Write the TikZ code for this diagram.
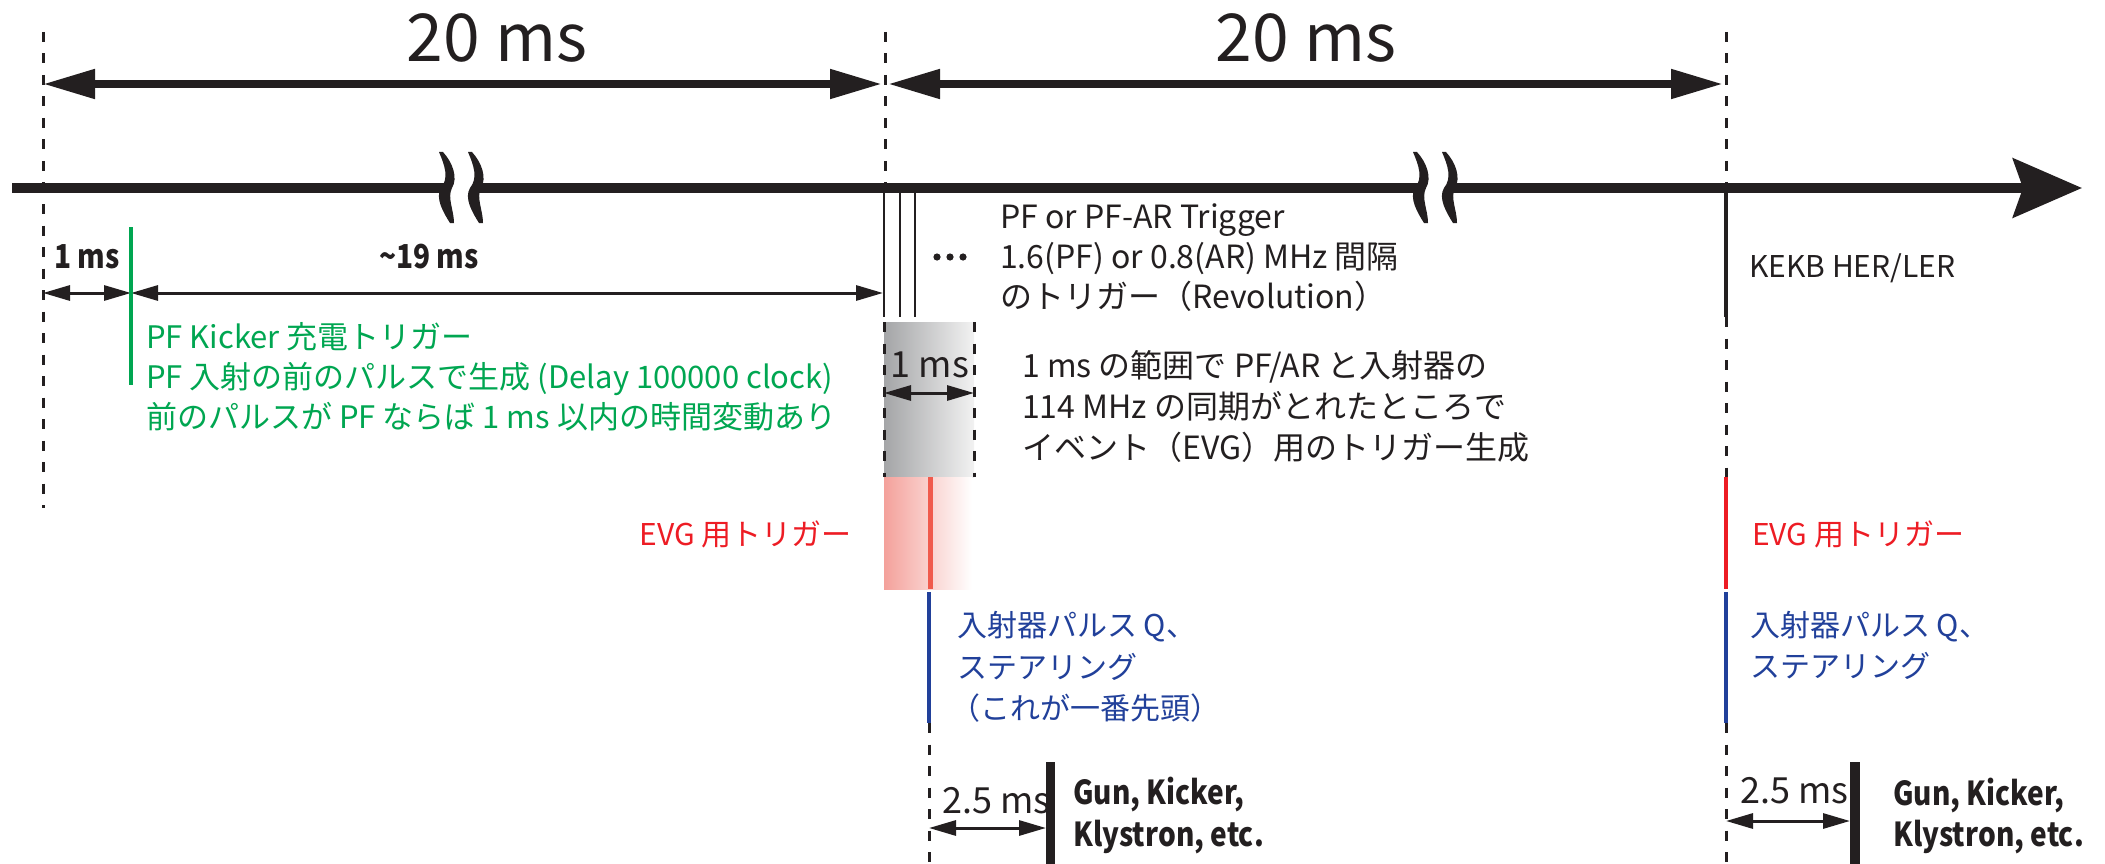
\documentclass[tikz,border=0pt]{standalone}
\usepackage{fontspec}
\setmainfont{Noto Sans CJK JP}
\newfontfamily\condfont{Noto Sans CJK JP}[FakeStretch=0.85]
\usetikzlibrary{arrows.meta}
\definecolor{kgreen}{HTML}{00A651}
\definecolor{kred}{HTML}{ED1C24}
\definecolor{kblue}{HTML}{21409A}
\definecolor{kblack}{HTML}{231F20}
\definecolor{kline}{HTML}{F05A4C}
\definecolor{gleft}{HTML}{A4A5A7}
\definecolor{gright}{HTML}{F2F2F2}
\definecolor{rleft}{HTML}{F4A19B}
\begin{document}
\begin{tikzpicture}[x=1pt,y=-1pt,
  txt/.style={inner sep=0pt,anchor=base west,text=kblack,font=\fontsize{32pt}{36pt}\selectfont},
  smtxt/.style={inner sep=0pt,anchor=base west,text=kblack,font=\fontsize{30pt}{36pt}\selectfont},
  bigtxt/.style={inner sep=0pt,anchor=base,text=kblack,font=\fontsize{66pt}{70pt}\selectfont},
  midtxt/.style={inner sep=0pt,anchor=base west,text=kblack,font=\fontsize{36pt}{40pt}\selectfont},
  boldtxt/.style={inner sep=0pt,anchor=base west,text=kblack,font=\fontsize{33pt}{36pt}\condfont\bfseries},
  dashline/.style={draw=kblack,line width=3pt,dash pattern=on 10pt off 11.5pt},
  bigarr/.style={draw=kblack,line width=8pt,{Triangle[length=52pt,width=28pt]}-{Triangle[length=52pt,width=28pt]}},
  smallarr/.style={draw=kblack,line width=3pt,{Triangle[length=27pt,width=15pt]}-{Triangle[length=27pt,width=15pt]}},
  timeseg/.style={draw=kblack,line width=9pt},
  brkmark/.pic={\fill[kblack] (-7,-36) .. controls (-1,-22) and (3,-10) .. (-5,0) .. controls (-11,10) and (-3,24) .. (4,35) -- (8,35) .. controls (8,22) and (1,10) .. (6,0) .. controls (12,-10) and (7,-25) .. (-3,-36) -- cycle;}
]
\useasboundingbox (0,0) rectangle (2105,864);

% ---- coordinates
\coordinate (dL0) at (43,32);   \coordinate (dL1) at (43,508);
\coordinate (dM0) at (885,32);  \coordinate (dM1) at (885,188);
\coordinate (dR0) at (1726,32); \coordinate (dR1) at (1726,188);
\coordinate (dR2) at (1726,317); \coordinate (dR3) at (1726,477);
\coordinate (dR4) at (1726,589); \coordinate (dR5) at (1726,592);
\coordinate (dR6) at (1726,723); \coordinate (dR7) at (1726,864);
\coordinate (aL) at (43,84); \coordinate (aM1) at (882,84);
\coordinate (aM2) at (888,84); \coordinate (aR) at (1723,84);
\coordinate (t0) at (12,188); \coordinate (b1) at (446,188); \coordinate (b2) at (475,188);
\coordinate (b3) at (1420,188); \coordinate (b4) at (1449,188); \coordinate (tEnd) at (2082,188);

% ---- gradient boxes
\shade[left color=gleft,right color=gright] (884,322) rectangle (974,477);
\shade[left color=rleft,right color=white] (884,477) rectangle (972,589);

% ---- dashed guides
\draw[dashline] (dL0) -- (dL1);
\draw[dashline] (dM0) -- (dM1);
\draw[dashline] (dR0) -- (dR1);
\draw[dashline] (dR2) -- (dR3);
\draw[dashline] (dR6) -- (dR7);
\coordinate (gb0) at (884,322); \coordinate (gb1) at (884,477);
\coordinate (gb2) at (974,322); \coordinate (gb3) at (974,477);
\draw[dashline] (gb0) -- (gb1);
\draw[dashline] (gb2) -- (gb3);
\coordinate (lc0) at (929,723); \coordinate (lc1) at (929,864);
\draw[dashline] (lc0) -- (lc1);

% ---- top 20 ms arrows
\draw[bigarr] (aL) -- (aM1);
\draw[bigarr] (aM2) -- (aR);
\node[bigtxt] (t20a) at (497,62) {20 ms};
\node[bigtxt] (t20b) at (1306,62) {20 ms};

% ---- time axis
\draw[timeseg] (t0) -- (b1);
\draw[timeseg] (b2) -- (b3);
\draw[timeseg,-{Stealth[length=69pt,width=59pt,inset=10pt]}] (b4) -- (tEnd);
\pic at (b1) {brkmark};
\pic at (b2) {brkmark};
\pic at (b3) {brkmark};
\pic at (b4) {brkmark};

% ---- PF revolution triggers
\coordinate (r1a) at (884,188); \coordinate (r1b) at (884,317);
\coordinate (r2a) at (900,188); \coordinate (r2b) at (900,317);
\coordinate (r3a) at (915,188); \coordinate (r3b) at (915,317);
\draw[kblack,line width=2.5pt] (r1a) -- (r1b);
\draw[kblack,line width=2.5pt] (r2a) -- (r2b);
\draw[kblack,line width=2.5pt] (r3a) -- (r3b);
\fill[kblack] (937,257) circle[radius=3.6pt] (950,257) circle[radius=3.6pt] (963,257) circle[radius=3.6pt];
\node[txt] (m1) at (1000,228) {PF or PF-AR Trigger};
\node[txt] (m2) at (1000,268) {1.6(PF) or 0.8(AR) MHz 間隔};
\node[txt] (m3) at (1000,308) {のトリガー（Revolution）};

% ---- 1 ms / ~19 ms
\coordinate (s0) at (43,293); \coordinate (s1) at (131,293); \coordinate (s2) at (883,293);
\draw[smallarr] (s0) -- (s1);
\draw[smallarr] (s1) -- (s2);
\node[boldtxt] (ms1) at (54,268) {1 ms};
\node[boldtxt,anchor=base] (ms19) at (429,268) {\textasciitilde19 ms};
\coordinate (gr0) at (131,227); \coordinate (gr1) at (131,385);
\draw[kgreen,line width=4pt] (gr0) -- (gr1);
\node[txt,text=kgreen,font=\fontsize{31pt}{36pt}\selectfont] (g1) at (146,348) {PF Kicker 充電トリガー};
\node[txt,text=kgreen,font=\fontsize{31pt}{36pt}\selectfont] (g2) at (146,388) {PF 入射の前のパルスで生成 (Delay 100000 clock)};
\node[txt,text=kgreen,font=\fontsize{31pt}{36pt}\selectfont] (g3) at (146,428) {前のパルスが PF ならば 1 ms 以内の時間変動あり};

% ---- 1 ms window
\node[midtxt,anchor=base] (w1) at (930,377) {1 ms};
\coordinate (wa) at (884,393); \coordinate (wb) at (974,393);
\draw[smallarr] (wa) -- (wb);
\node[txt] (c1) at (1022,377) {1 ms の範囲で PF/AR と入射器の};
\node[txt] (c2) at (1022,418) {114 MHz の同期がとれたところで};
\node[txt] (c3) at (1022,459) {イベント（EVG）用のトリガー生成};

% ---- EVG triggers
\coordinate (ev0) at (930,477); \coordinate (ev1) at (930,589);
\draw[kline,line width=5pt] (ev0) -- (ev1);
\node[smtxt,text=kred,anchor=base east] (e1) at (852,545) {EVG 用トリガー};
\draw[kred,line width=4.5pt] (dR3) -- (dR4);
\node[smtxt,text=kred] (e2) at (1752,545) {EVG 用トリガー};

% ---- injector pulse
\coordinate (bl0) at (929,592); \coordinate (bl1) at (929,723);
\draw[kblue,line width=4.5pt] (bl0) -- (bl1);
\node[smtxt,text=kblue] (q1) at (957,636) {入射器パルス Q、};
\node[smtxt,text=kblue] (q2) at (957,678) {ステアリング};
\node[smtxt,text=kblue] (q3) at (950,719) {（これが一番先頭）};
\draw[kblue,line width=4.5pt] (dR5) -- (dR6);
\node[smtxt,text=kblue] (q4) at (1750,636) {入射器パルス Q、};
\node[smtxt,text=kblue] (q5) at (1750,677) {ステアリング};

% ---- KEKB
\draw[kblack,line width=4.5pt] (dR1) -- (dR2);
\node[smtxt] (k1) at (1749,277) {KEKB HER/LER};

% ---- 2.5 ms, Gun, Kicker...
\coordinate (p0) at (1050.5,762); \coordinate (p1) at (1050.5,864);
\draw[kblack,line width=9pt] (p0) -- (p1);
\coordinate (pa) at (929,828); \coordinate (pb) at (1046,828);
\draw[smallarr] (pa) -- (pb);
\node[midtxt] (d1) at (942,813) {2.5 ms};
\node[boldtxt] (u1) at (1073,804) {Gun, Kicker,};
\node[boldtxt] (u2) at (1073,846) {Klystron, etc.};

\coordinate (p2) at (1855,762); \coordinate (p3) at (1855,864);
\draw[kblack,line width=10pt] (p2) -- (p3);
\coordinate (pc) at (1726,821); \coordinate (pd) at (1850,821);
\draw[smallarr] (pc) -- (pd);
\node[midtxt] (d2) at (1740,803) {2.5 ms};
\node[boldtxt] (u3) at (1893,805) {Gun, Kicker,};
\node[boldtxt] (u4) at (1893,846) {Klystron, etc.};
\end{tikzpicture}
\end{document}
